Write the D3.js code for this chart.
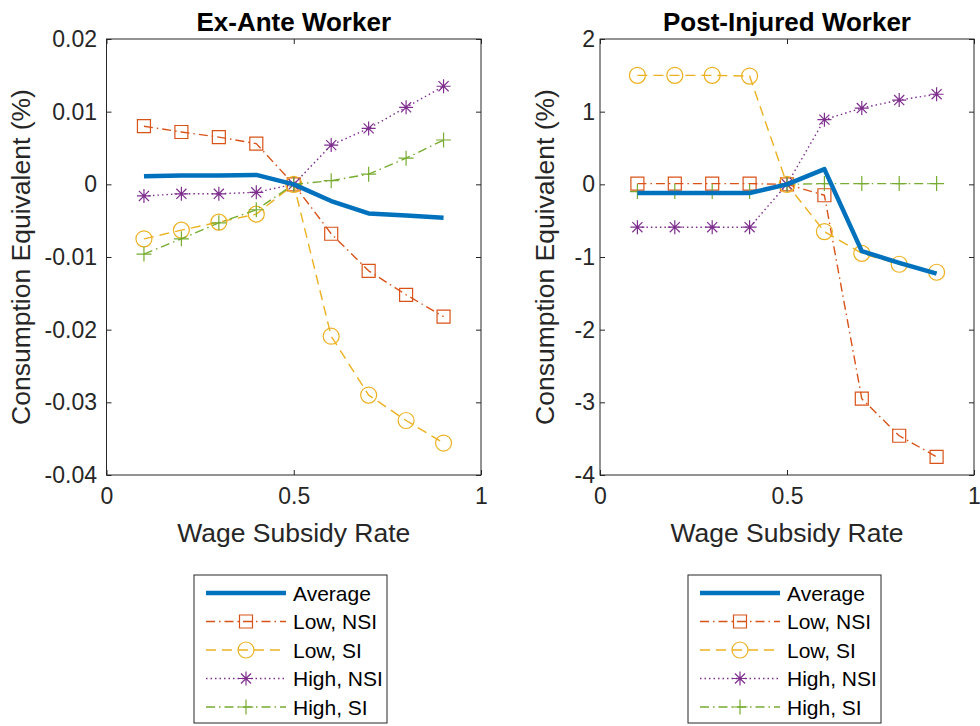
<!DOCTYPE html>
<html>
<head>
<meta charset="utf-8">
<script src="https://cdn.jsdelivr.net/npm/d3@7/dist/d3.min.js"></script>
<style>
  html, body { margin: 0; padding: 0; background: #fff; }
  svg text { font-family: "Liberation Sans", Arial, Helvetica, sans-serif; }
</style>
</head>
<body>
<svg id="chart" width="980" height="726"></svg>
<script>
// ---------- data ----------
const subsidyRates = [0.1, 0.2, 0.3, 0.4, 0.5, 0.6, 0.7, 0.8, 0.9];
const seriesNames = ["Average", "Low, NSI", "Low, SI", "High, NSI", "High, SI"];

// Ex-Ante Worker
const exAnteAverage = [0.0011, 0.0012, 0.0012, 0.0013, 0.0, -0.0023, -0.0040, -0.0043, -0.0046];
const exAnteLowNSI  = [0.0080, 0.0072, 0.0065, 0.0056, 0.0, -0.0068, -0.0119, -0.0152, -0.0182];
const exAnteLowSI   = [-0.0075, -0.0063, -0.0052, -0.0041, 0.0, -0.0209, -0.0290, -0.0325, -0.0356];
const exAnteHighNSI = [-0.0016, -0.0013, -0.0013, -0.0011, 0.0, 0.0054, 0.0077, 0.0106, 0.0135];
const exAnteHighSI  = [-0.0096, -0.0075, -0.0053, -0.0035, 0.0, 0.0005, 0.0014, 0.0036, 0.0061];

// Post-Injured Worker
const postAverage = [-0.12, -0.12, -0.12, -0.12, 0.0, 0.21, -0.92, -1.08, -1.23];
const postLowNSI  = [0.01, 0.01, 0.01, 0.01, 0.0, -0.15, -2.95, -3.46, -3.75];
const postLowSI   = [1.50, 1.50, 1.50, 1.49, 0.0, -0.65, -0.95, -1.10, -1.21];
const postHighNSI = [-0.59, -0.59, -0.59, -0.59, 0.0, 0.89, 1.05, 1.16, 1.24];
const postHighSI  = [-0.10, -0.10, -0.10, -0.10, 0.0, 0.01, 0.01, 0.01, 0.01];

const xTicks = [0, 0.5, 1];
const exAnteYTicks = [0.02, 0.01, 0, -0.01, -0.02, -0.03, -0.04];
const postYTicks = [2, 1, 0, -1, -2, -3, -4];

const titles = ["Ex-Ante Worker", "Post-Injured Worker"];
const xLabel = "Wage Subsidy Rate";
const yLabel = "Consumption Equivalent (%)";

// ---------- styles ----------
const styles = [
  { color: "#0072BD", width: 4.5, dash: null, marker: null },
  { color: "#D95319", width: 1.4, dash: "9,4,1.5,4", marker: "square" },
  { color: "#EDB120", width: 1.4, dash: "10,6", marker: "circle" },
  { color: "#7E2F8E", width: 1.4, dash: "1.5,3", marker: "star" },
  { color: "#77AC30", width: 1.4, dash: "9,4,1.5,4", marker: "plus" }
];

const svg = d3.select("#chart");
const axisColor = "#262626";
const fmt = v => d3.format("~g")(v).replace("\u2212", "-");

function markerPath(type) {
  const p = d3.path();
  if (type === "square") { const s = 6.5; p.rect(-s, -s, 2 * s, 2 * s); }
  else if (type === "circle") { p.arc(0, 0, 8, 0, 2 * Math.PI); p.closePath(); }
  else if (type === "star") {
    const r = 7;
    p.moveTo(0, -r); p.lineTo(0, r);
    p.moveTo(-r, 0); p.lineTo(r, 0);
    const d = r * 0.72;
    p.moveTo(-d, -d); p.lineTo(d, d);
    p.moveTo(-d, d); p.lineTo(d, -d);
  } else if (type === "plus") {
    const r = 7.5;
    p.moveTo(0, -r); p.lineTo(0, r);
    p.moveTo(-r, 0); p.lineTo(r, 0);
  }
  return p.toString();
}

function drawPanel(cfg) {
  const { left, right, top, bottom, yDomain, yTicks, series, title, yLabelX, legendX, yPad } = cfg;
  const x = d3.scaleLinear().domain([0, 1]).range([left, right]);
  const y = d3.scaleLinear().domain(yDomain).range([bottom, top]);
  const g = svg.append("g");

  g.append("rect").attr("x", left).attr("y", top)
    .attr("width", right - left).attr("height", bottom - top)
    .attr("fill", "none").attr("stroke", axisColor).attr("stroke-width", 1);

  const tickLen = 5;
  const xAxis = d3.axisBottom(x).tickValues(xTicks).tickSize(-tickLen).tickPadding(13)
    .tickFormat(fmt);
  const gx = g.append("g").attr("transform", `translate(0,${bottom})`).call(xAxis);
  gx.select(".domain").remove();
  gx.selectAll("line").attr("stroke", axisColor);
  gx.selectAll("text").attr("fill", axisColor).attr("font-size", 23).attr("dy", "0.71em");
  const gxt = g.append("g").attr("transform", `translate(0,${top})`)
    .call(d3.axisTop(x).tickValues(xTicks).tickSize(-tickLen).tickFormat(""));
  gxt.select(".domain").remove();
  gxt.selectAll("line").attr("stroke", axisColor);

  const yAxis = d3.axisLeft(y).tickValues(yTicks).tickSize(-tickLen).tickPadding(yPad)
    .tickFormat(fmt);
  const gy = g.append("g").attr("transform", `translate(${left},0)`).call(yAxis);
  gy.select(".domain").remove();
  gy.selectAll("line").attr("stroke", axisColor);
  gy.selectAll("text").attr("fill", axisColor).attr("font-size", 23);
  const gyr = g.append("g").attr("transform", `translate(${right},0)`)
    .call(d3.axisRight(y).tickValues(yTicks).tickSize(-tickLen).tickFormat(""));
  gyr.select(".domain").remove();
  gyr.selectAll("line").attr("stroke", axisColor);

  g.append("text").attr("x", (left + right) / 2).attr("y", 31)
    .attr("text-anchor", "middle").attr("font-size", 26).attr("font-weight", "bold")
    .attr("fill", "#000").text(title);
  g.append("text").attr("x", (left + right) / 2).attr("y", 542)
    .attr("text-anchor", "middle").attr("font-size", 26.5).attr("fill", axisColor).text(xLabel);
  g.append("text").attr("transform", `translate(${yLabelX},${(top + bottom) / 2}) rotate(-90)`)
    .attr("text-anchor", "middle").attr("font-size", 26.5).attr("fill", axisColor).text(yLabel);

  const line = d3.line().x((d, i) => x(subsidyRates[i])).y(d => y(d));
  const order = [1, 2, 3, 4, 0];
  order.forEach(si => {
    const st = styles[si];
    g.append("path").datum(series[si]).attr("d", line)
      .attr("fill", "none").attr("stroke", st.color).attr("stroke-width", st.width)
      .attr("stroke-dasharray", st.dash).attr("stroke-linejoin", "round");
    if (st.marker) {
      g.selectAll(null).data(series[si]).enter().append("path")
        .attr("transform", (d, i) => `translate(${x(subsidyRates[i])},${y(d)})`)
        .attr("d", markerPath(st.marker))
        .attr("fill", "none").attr("stroke", st.color).attr("stroke-width", 1.2);
    }
  });

  const lg = svg.append("g");
  const lx = legendX, ly = 575, lw = 193, lh = 148;
  lg.append("rect").attr("x", lx).attr("y", ly).attr("width", lw).attr("height", lh)
    .attr("fill", "#fff").attr("stroke", axisColor).attr("stroke-width", 1);
  seriesNames.forEach((name, i) => {
    const st = styles[i];
    const ry = ly + 18 + i * 28.5;
    lg.append("line").attr("x1", lx + 12).attr("x2", lx + 92).attr("y1", ry).attr("y2", ry)
      .attr("stroke", st.color).attr("stroke-width", st.width).attr("stroke-dasharray", st.dash);
    if (st.marker) {
      lg.append("path").attr("transform", `translate(${lx + 52},${ry})`)
        .attr("d", markerPath(st.marker)).attr("fill", "none")
        .attr("stroke", st.color).attr("stroke-width", 1.2);
    }
    lg.append("text").attr("x", lx + 99).attr("y", ry).attr("dy", "0.36em")
      .attr("font-size", 21).attr("fill", "#000").text(name);
  });
}

drawPanel({
  left: 106.5, right: 481, top: 39, bottom: 475,
  yDomain: [-0.04, 0.02], yTicks: exAnteYTicks,
  series: [exAnteAverage, exAnteLowNSI, exAnteLowSI, exAnteHighNSI, exAnteHighSI],
  title: titles[0], yLabelX: 30, legendX: 194, yPad: 9.5
});
drawPanel({
  left: 600, right: 974, top: 39, bottom: 475,
  yDomain: [-4, 2], yTicks: postYTicks,
  series: [postAverage, postLowNSI, postLowSI, postHighNSI, postHighSI],
  title: titles[1], yLabelX: 554, legendX: 688, yPad: 5
});
</script>
</body>
</html>
